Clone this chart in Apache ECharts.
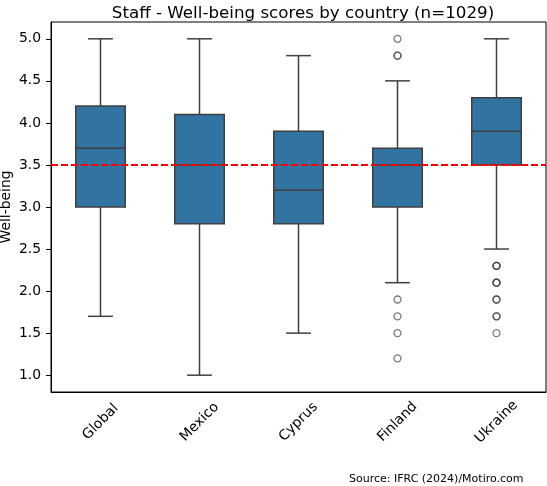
<!DOCTYPE html>
<html>
<head>
<meta charset="utf-8">
<script src="https://cdn.jsdelivr.net/npm/echarts@6/dist/echarts.min.js"></script>
<style>
    html, body { margin: 0; padding: 0; background: #fff; }
    #chart { width: 547px; height: 486px; }
</style>
</head>
<body>
<div id="chart"></div>
<script>
// box statistics
var countries = ["Global", "Mexico", "Cyprus", "Finland", "Ukraine"];
var lowWhisker = [1.7, 1.0, 1.5, 2.1, 2.5];
var q1 = [3.0, 2.8, 2.8, 3.0, 3.5];
var medians = [3.7, 3.5, 3.2, 3.5, 3.9];
var q3 = [4.2, 4.1, 3.9, 3.7, 4.3];
var highWhisker = [5.0, 5.0, 4.8, 4.5, 5.0];

// outliers (repeated values overlap and look darker)
var finlandOutliers = [5.0, 4.8, 4.8, 1.9, 1.7, 1.5, 1.2];
var ukraineOutliers = [2.3, 2.3, 2.3, 2.1, 2.1, 2.1, 1.9, 1.9, 1.7, 1.7, 1.5];

var yTicks = [1.0, 1.5, 2.0, 2.5, 3.0, 3.5, 4.0, 4.5, 5.0];
var reference = 3.5;

var boxColor = "#3274a1";
var lineColor = "#3f3f3f";
var font = "DejaVu Sans";

var boxData = countries.map(function (c, i) {
    return [i, lowWhisker[i], q1[i], medians[i], q3[i], highWhisker[i]];
});

var outlierData = [];
finlandOutliers.forEach(function (v) { outlierData.push([3, v]); });
ukraineOutliers.forEach(function (v) { outlierData.push([4, v]); });

function renderBox(params, api) {
    var x = api.value(0);
    var pLow = api.coord([x, api.value(1)]);
    var pQ1 = api.coord([x, api.value(2)]);
    var pMed = api.coord([x, api.value(3)]);
    var pQ3 = api.coord([x, api.value(4)]);
    var pHigh = api.coord([x, api.value(5)]);
    var band = api.size([1, 0])[0];
    var half = band * 0.25;
    var cap = half * 0.5;
    var cx = pMed[0];
    var ls = { stroke: lineColor, lineWidth: 1.5 };
    return {
        type: "group",
        children: [
            { type: "line", shape: { x1: cx, y1: pLow[1], x2: cx, y2: pQ1[1] }, style: ls },
            { type: "line", shape: { x1: cx, y1: pQ3[1], x2: cx, y2: pHigh[1] }, style: ls },
            { type: "line", shape: { x1: cx - cap, y1: pLow[1], x2: cx + cap, y2: pLow[1] }, style: ls },
            { type: "line", shape: { x1: cx - cap, y1: pHigh[1], x2: cx + cap, y2: pHigh[1] }, style: ls },
            {
                type: "rect",
                shape: { x: cx - half, y: pQ3[1], width: half * 2, height: pQ1[1] - pQ3[1] },
                style: { fill: boxColor, stroke: lineColor, lineWidth: 1.5 }
            },
            { type: "line", shape: { x1: cx - half, y1: pMed[1], x2: cx + half, y2: pMed[1] }, style: ls }
        ]
    };
}

var option = {
    animation: false,
    backgroundColor: "#fff",
    textStyle: { fontFamily: font },
    title: [
        {
            text: "Staff - Well-being scores by country (n=1029)",
            left: 298,
            top: 0,
            textAlign: "center",
            textStyle: { fontFamily: font, fontSize: 16.7, fontWeight: "normal", color: "#000" }
        },
        {
            text: "Source: IFRC (2024)/Motiro.com",
            left: 349,
            top: 474,
            padding: 0,
            textStyle: { fontFamily: font, fontSize: 11, fontWeight: "normal", color: "#000" }
        }
    ],
    grid: {
        left: 51, right: 1, top: 22, bottom: 94,
        containLabel: false,
        outerBoundsMode: "none",
        show: true, borderColor: "#000", borderWidth: 1
    },
    xAxis: {
        type: "category",
        data: countries,
        boundaryGap: true,
        axisLine: { lineStyle: { color: "#000", width: 1 } },
        axisTick: { alignWithLabel: true, length: 5, lineStyle: { color: "#000" } },
        splitLine: { show: false },
        axisLabel: {
            rotate: 45,
            align: "center",
            verticalAlign: "middle",
            margin: 30,
            fontFamily: font,
            fontSize: 13.9,
            color: "#000"
        }
    },
    yAxis: {
        type: "value",
        min: 0.8,
        max: 5.2,
        name: "Well-being",
        nameLocation: "middle",
        nameGap: 38,
        nameMoveOverlap: false,
        nameTextStyle: { fontFamily: font, fontSize: 13.9, color: "#000" },
        axisLine: { show: true, lineStyle: { color: "#000", width: 1 } },
        axisTick: { show: true, length: 5, customValues: yTicks, lineStyle: { color: "#000" } },
        splitLine: { show: false },
        axisLabel: {
            customValues: yTicks,
            margin: 10,
            fontFamily: font,
            fontSize: 13.9,
            color: "#000",
            formatter: function (v) { return v.toFixed(1); }
        }
    },
    series: [
        {
            type: "custom",
            renderItem: renderBox,
            data: boxData,
            encode: { x: 0, y: [1, 2, 3, 4, 5] },
            z: 2
        },
        {
            type: "scatter",
            data: outlierData,
            symbol: "circle",
            symbolSize: 7,
            itemStyle: { color: "rgba(255,255,255,0)", borderColor: "rgba(63,63,63,0.85)", borderWidth: 1.3 },
            z: 3,
            markLine: {
                silent: true,
                symbol: "none",
                label: { show: false },
                lineStyle: { color: "#ff0000", type: [7, 3], width: 2 },
                data: [{ yAxis: reference }]
            }
        }
    ]
};

var chart = echarts.init(document.getElementById("chart"));
chart.setOption(option);
</script>
</body>
</html>
